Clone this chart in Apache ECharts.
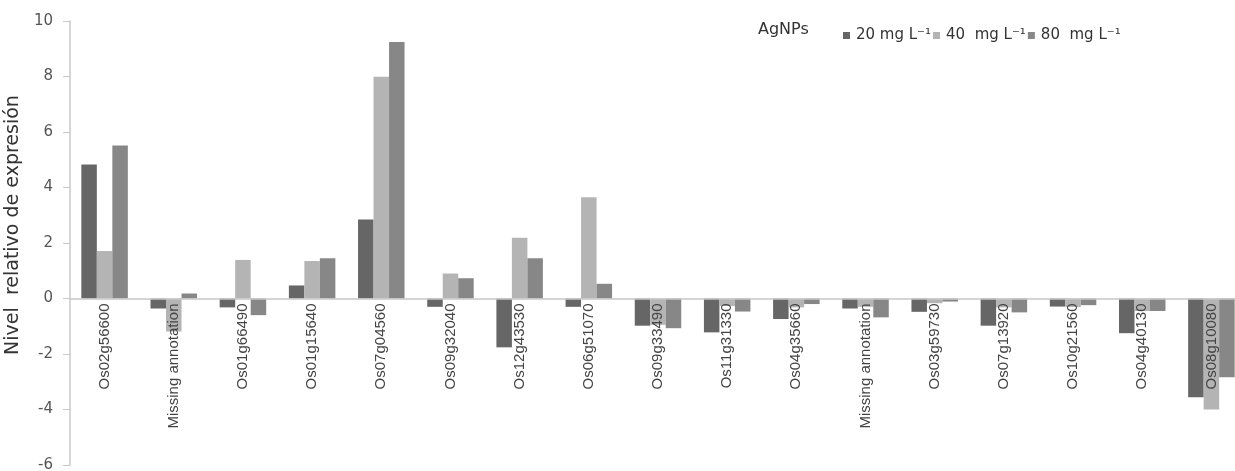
<!DOCTYPE html>
<html>
<head>
<meta charset="utf-8">
<script src="https://cdn.jsdelivr.net/npm/echarts@6/dist/echarts.min.js"></script>
<style>html,body{margin:0;padding:0;background:#fff;overflow:hidden}#c{width:1246px;height:471px}</style>
</head>
<body>
<div id="c"></div>
<script>
const categories = ["Os02g56600","Missing annotation","Os01g66490","Os01g15640","Os07g04560","Os09g32040","Os12g43530","Os06g51070","Os09g33490","Os11g31330","Os04g35660","Missing annotation","Os03g59730","Os07g13920","Os10g21560","Os04g40130","Os08g10080"];
const seriesNames = ["20 mg L⁻¹","40  mg L⁻¹","80  mg L⁻¹"];
const s20 = [4.83,-0.36,-0.32,0.47,2.85,-0.30,-1.76,-0.30,-0.98,-1.22,-0.74,-0.36,-0.48,-0.98,-0.29,-1.25,-3.56];
const s40 = [1.71,-1.19,1.39,1.35,7.99,0.90,2.19,3.65,-0.95,-0.27,-0.32,-0.30,-0.17,-0.32,-0.31,-0.45,-4.00];
const s80 = [5.51,0.18,-0.60,1.45,9.24,0.73,1.45,0.53,-1.07,-0.47,-0.20,-0.68,-0.11,-0.50,-0.24,-0.45,-2.84];
const yTicks = {min:-6,max:10,interval:2};
const colors = ["#666666","#b4b4b4","#878787"];

const chart = echarts.init(document.getElementById('c'));
const font = "Liberation Sans, Arial, sans-serif";
const wide = "DejaVu Sans, sans-serif";
chart.setOption({
  animation:false,
  textStyle:{fontFamily:font},
  color:colors,
  grid:{left:70,right:0,top:21,bottom:6,containLabel:false,outerBoundsMode:'none'},
  legend:{
    left:838, top:23, itemWidth:7, itemHeight:7, itemGap:2, icon:'rect',
    textStyle:{fontSize:15,color:'#333',fontFamily:wide,padding:[0,0,0,1]},
    data:seriesNames
  },
  graphic:[{type:'text',left:758,top:22,style:{text:'AgNPs',fontSize:16,fill:'#333',fontFamily:wide}}],
  xAxis:{
    type:'category', data:categories, z:10,
    axisLine:{onZero:false,lineStyle:{color:'#c8c8c8',width:1.5}},
    axisTick:{show:false},
    axisLabel:{show:true,rotate:90,interval:0,fontSize:15,color:'#444',margin:5,fontFamily:font}
  },
  yAxis:{
    type:'value', min:yTicks.min, max:yTicks.max, interval:yTicks.interval,
    name:'Nivel  relativo de expresión', nameLocation:'middle', nameGap:42, nameRotate:90,
    nameTextStyle:{fontSize:19,color:'#333',fontFamily:wide,padding:[0,0,0,36]},
    splitLine:{show:false},
    axisLine:{show:true,lineStyle:{color:'#c8c8c8',width:1.5}},
    axisTick:{show:true,length:7,lineStyle:{color:'#c8c8c8'}},
    axisLabel:{fontSize:15,color:'#555',margin:17,fontFamily:wide}
  },
  series:[
    {name:seriesNames[0],type:'bar',data:s20,barWidth:15.5,barGap:'0%',barCategoryGap:'33%'},
    {name:seriesNames[1],type:'bar',data:s40,barWidth:15.5,barGap:'0%'},
    {name:seriesNames[2],type:'bar',data:s80,barWidth:15.5,barGap:'0%'}
  ]
});
// place the category axis on the zero line, using the library's own scale
const zeroY = chart.convertToPixel({yAxisIndex:0}, 0);
const minY = chart.convertToPixel({yAxisIndex:0}, yTicks.min);
chart.setOption({xAxis:{offset: zeroY - minY}});
</script>
</body>
</html>
